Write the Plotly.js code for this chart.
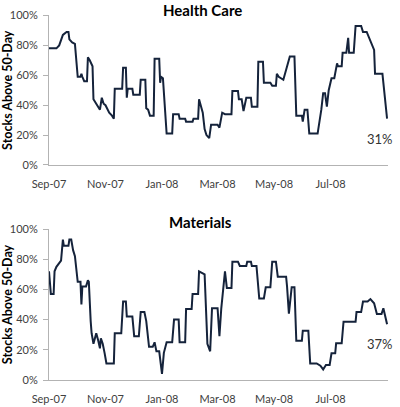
<!DOCTYPE html>
<html>
<head>
<meta charset="utf-8">
<script src="https://cdn.plot.ly/plotly-3.0.1.min.js"></script>
<style>html,body{margin:0;padding:0;background:#fff;}#chart{width:400px;height:407px;}</style>
</head>
<body>
<div id="chart"></div>
<script>
// Health Care: % of stocks above 50-day moving average
const hcDates = ["2007-09-01","2007-09-09","2007-09-12","2007-09-14","2007-09-16","2007-09-20","2007-09-22","2007-09-23","2007-09-26","2007-09-29","2007-09-30",
"2007-10-02","2007-10-05","2007-10-06","2007-10-07","2007-10-09","2007-10-12","2007-10-13","2007-10-15","2007-10-17","2007-10-18","2007-10-19","2007-10-22","2007-10-24","2007-10-26","2007-10-28","2007-10-30",
"2007-11-01","2007-11-03","2007-11-05","2007-11-08","2007-11-10","2007-11-11","2007-11-19","2007-11-20","2007-11-23","2007-11-24","2007-11-25","2007-11-30",
"2007-12-01","2007-12-08","2007-12-09","2007-12-14","2007-12-15","2007-12-17","2007-12-19","2007-12-23","2007-12-24","2007-12-29","2007-12-30","2007-12-31",
"2008-01-02","2008-01-06","2008-01-12","2008-01-13","2008-01-19","2008-01-20","2008-01-26","2008-01-27",
"2008-02-03","2008-02-04","2008-02-09","2008-02-10","2008-02-12","2008-02-14","2008-02-16","2008-02-18","2008-02-21","2008-02-23",
"2008-03-01","2008-03-03","2008-03-06","2008-03-09","2008-03-16","2008-03-17","2008-03-23","2008-03-24","2008-03-27","2008-03-29",
"2008-04-01","2008-04-06","2008-04-07","2008-04-13","2008-04-14","2008-04-19","2008-04-20","2008-04-27","2008-04-29",
"2008-05-03","2008-05-04","2008-05-06","2008-05-11","2008-05-15","2008-05-18","2008-05-23","2008-05-25","2008-05-31",
"2008-06-01","2008-06-03","2008-06-06","2008-06-08","2008-06-17","2008-06-21","2008-06-23","2008-06-25","2008-06-27","2008-06-29",
"2008-07-02","2008-07-05","2008-07-08","2008-07-09","2008-07-13","2008-07-14","2008-07-18","2008-07-20","2008-07-21","2008-07-26","2008-07-28",
"2008-08-03","2008-08-05","2008-08-09","2008-08-11","2008-08-15","2008-08-17","2008-08-18","2008-08-26","2008-08-31"];
const hcValues = [78,78,80,83,87,89,89,84,82,81,72,
59,59,61,59,56,56,72,70,67,66,44,41,39,37,45,41,
40,37,35,33,31,51,51,65,65,45,51,51,
47,47,57,57,38,37,33,33,71,71,55,59,
58,21,21,34,34,31,31,29,
29,31,31,44,40,35,24,20,18,27,
27,25,35,34,34,49.5,49.5,44,44,36,
45,45,39,39,69,69,55,55,53,
53,61,59,57,67,72.5,72.5,33,33,
29,37,37,21,21,37,48,48,39,50,
58,58,68,66,66,75,75,85,75,75,93,
93,89,89,86,81,77,61,61,31];

// Materials
const matDates = ["2007-09-01","2007-09-03","2007-09-06","2007-09-07","2007-09-09","2007-09-12","2007-09-14","2007-09-16","2007-09-17","2007-09-22","2007-09-23","2007-09-25","2007-09-27","2007-09-29","2007-09-30",
"2007-10-02","2007-10-05","2007-10-06","2007-10-07","2007-10-11","2007-10-13","2007-10-14","2007-10-16","2007-10-17","2007-10-19","2007-10-21","2007-10-22","2007-10-24","2007-10-26","2007-10-27","2007-10-29","2007-10-31",
"2007-11-02","2007-11-10","2007-11-11","2007-11-18","2007-11-20","2007-11-23","2007-11-24","2007-11-30",
"2007-12-02","2007-12-07","2007-12-09","2007-12-13","2007-12-15","2007-12-18","2007-12-22","2007-12-24","2007-12-26","2007-12-29","2007-12-30",
"2008-01-01","2008-01-03","2008-01-06","2008-01-12","2008-01-14","2008-01-19","2008-01-20","2008-01-26","2008-01-27",
"2008-02-02","2008-02-03","2008-02-09","2008-02-10","2008-02-16","2008-02-18","2008-02-19","2008-02-22","2008-02-24",
"2008-03-01","2008-03-03","2008-03-05","2008-03-09","2008-03-11","2008-03-16","2008-03-17","2008-03-23","2008-03-25",
"2008-04-01","2008-04-02","2008-04-06","2008-04-07","2008-04-12","2008-04-15","2008-04-20","2008-04-22","2008-04-27","2008-04-29",
"2008-05-03","2008-05-05","2008-05-14","2008-05-15","2008-05-17","2008-05-20","2008-05-23","2008-05-25","2008-05-31",
"2008-06-01","2008-06-07","2008-06-09","2008-06-16","2008-06-20","2008-06-23","2008-06-26","2008-06-30",
"2008-07-02","2008-07-06","2008-07-07","2008-07-13","2008-07-15","2008-07-28","2008-07-29",
"2008-08-03","2008-08-05","2008-08-10","2008-08-13","2008-08-17","2008-08-20","2008-08-25","2008-08-27","2008-08-31"];
const matValues = [72,57,57,72,75,77,79,93,89,89,93,93,86,82,75,
65,65,50,62,62,66,65,39,31,24,29,31,26.5,21,27.6,24,18,
11,11,31,31,52,52,42,42,
29,29,45,45,39,22,22,25,19,19,15,
4,18,25,25,40,40,25,25,47,
47,57,57,72,70,43,24,19,47.5,
47.5,29,47.5,72,61,61,78.4,78.4,75.5,
75.5,78.4,78.4,75.5,75.5,54,54,61.4,61.4,78.4,
78.4,68.4,68.4,62,44,61.4,61.4,26,26,
32.7,32.7,11,11,9.5,7,10,10,
17.7,17.7,24.3,24.3,38.6,38.6,45,
45,52,52,53.6,50.8,43.7,43.7,47.5,37];

const chartTitles = ["Health Care", "Materials"];
const yTitle = "Stocks Above 50-Day";
const tickDates = ["2007-09-01","2007-11-01","2008-01-01","2008-03-01","2008-05-01","2008-07-01"];
const tickLabels = ["Sep-07","Nov-07","Jan-08","Mar-08","May-08","Jul-08"];
const yTicks = [0,20,40,60,80,100];
const yTickLabels = ["0%","20%","40%","60%","80%","100%"];

const FONT = "Lato, 'Open Sans', sans-serif";
const LINE = "#15233b";
const AX = "#b3b3b3";

const traces = [
  {x: hcDates, y: hcValues, type: "scatter", mode: "lines", line: {color: LINE, width: 2}, xaxis: "x", yaxis: "y", hoverinfo: "skip"},
  {x: matDates, y: matValues, type: "scatter", mode: "lines", line: {color: LINE, width: 2}, xaxis: "x2", yaxis: "y2", hoverinfo: "skip"}
];

function xAx(anchor) {
  return {domain: [0.1225, 0.97], anchor: anchor, type: "date", range: ["2007-09-01", "2008-09-01"],
    tickmode: "array", tickvals: tickDates, ticktext: tickLabels, showgrid: false, zeroline: false,
    showline: true, linecolor: AX, linewidth: 1, ticks: "", ticklabelstandoff: 9,
    tickfont: {family: FONT, size: 11, color: "#404040"}, fixedrange: true};
}
function yAx(anchor, dom) {
  return {domain: dom, anchor: anchor, range: [0, 100], tickmode: "array", tickvals: yTicks, ticktext: yTickLabels,
    showgrid: false, zeroline: false, showline: true, linecolor: AX, linewidth: 1,
    ticks: "outside", ticklen: 5, tickcolor: AX, tickwidth: 1, ticklabelstandoff: 3,
    tickfont: {family: FONT, size: 11, color: "#404040"},
    title: {text: yTitle, font: {family: FONT, size: 12.5, color: "#000", weight: "bold"}, standoff: 3},
    fixedrange: true};
}

function lastLabel(dates, vals, xr, yr) {
  const v = vals[vals.length - 1];
  return {x: dates[dates.length - 1], y: v, xref: xr, yref: yr, text: Math.round(v) + "%", showarrow: false,
    xshift: -7, yshift: -20, font: {family: FONT, size: 13, color: "#333"}};
}

const layout = {
  width: 400, height: 407, margin: {l: 0, r: 0, t: 0, b: 0},
  paper_bgcolor: "#fff", plot_bgcolor: "#fff", showlegend: false,
  xaxis: xAx("y"), yaxis: yAx("x", [0.5946, 0.962]),
  xaxis2: xAx("y2"), yaxis2: yAx("x2", [0.0663, 0.4373]),
  annotations: [
    {text: chartTitles[0], xref: "paper", yref: "paper", x: 0.507, y: (407 - 10) / 407, yanchor: "middle", showarrow: false,
     font: {family: FONT, size: 15, color: "#000", weight: "bold"}},
    {text: chartTitles[1], xref: "paper", yref: "paper", x: 0.5, y: (407 - 222) / 407, yanchor: "middle", showarrow: false,
     font: {family: FONT, size: 15, color: "#000", weight: "bold"}},
    lastLabel(hcDates, hcValues, "x", "y"),
    lastLabel(matDates, matValues, "x2", "y2")
  ]
};

Plotly.newPlot("chart", traces, layout, {staticPlot: true, displayModeBar: false});
</script>
</body>
</html>
